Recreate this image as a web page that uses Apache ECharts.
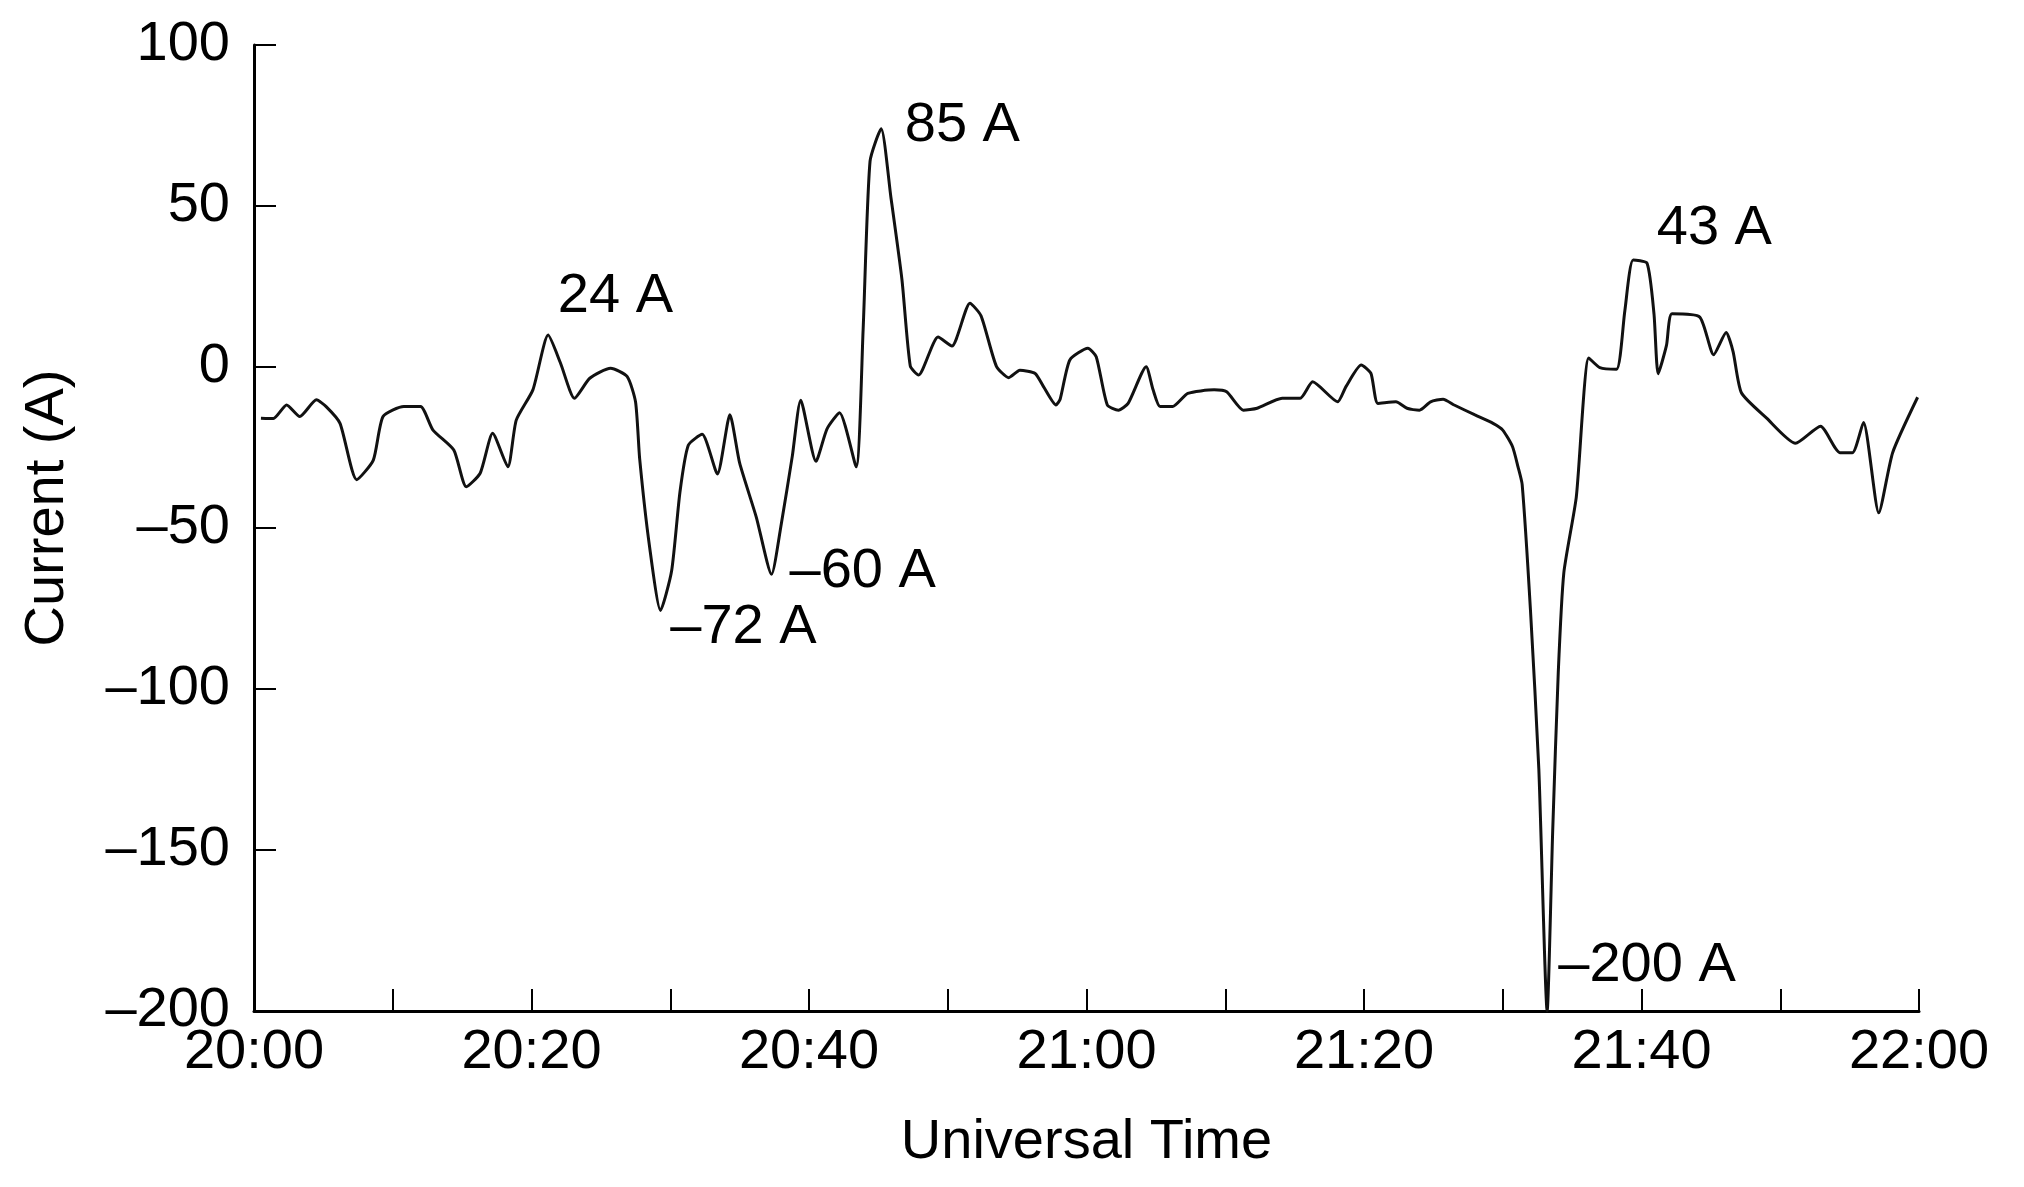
<!DOCTYPE html>
<html>
<head>
<meta charset="utf-8">
<title>Current vs Universal Time</title>
<script src="https://cdn.jsdelivr.net/npm/echarts@6/dist/echarts.min.js"></script>
<style>
  html, body { margin: 0; padding: 0; background: #fff; }
  #chart { width: 2024px; height: 1187px; }
</style>
</head>
<body>
<div id="chart"></div>
<script>
// minutes after 20:00 UT
var minutes = [
  0.5, 1.4, 2.35, 3.3, 4.5, 5.2, 6.2, 7.4, 8.6, 9.3,
  10.8, 12.0, 12.9, 14.4, 15.3, 16.3, 17.2, 18.3, 18.9, 20.1,
  21.2, 22.1, 23.1, 24.2, 25.7, 26.9, 27.5, 27.8, 28.5, 29.3,
  30.1, 30.7, 31.3, 32.3, 33.4, 34.3, 35.0, 36.2, 37.3, 38.0,
  38.8, 39.4, 40.5, 41.3, 42.2, 43.4, 43.9, 44.4, 45.2, 45.9,
  46.7, 47.3, 47.9, 49.3, 50.3, 51.6, 52.4, 53.5, 54.4, 55.2,
  56.3, 56.9, 57.8, 58.1, 58.8, 60.1, 60.7, 61.5, 62.3, 63.0,
  64.3, 64.8, 65.3, 66.2, 67.3, 69.2, 70.1, 71.3, 72.3, 74.1,
  75.4, 76.3, 78.1, 78.7, 79.8, 80.5, 81.0, 82.3, 83.1, 84.0,
  84.8, 85.7, 86.5, 88.0, 89.3, 90.0, 90.7, 91.1, 91.4, 92.0,
  92.6, 93.2, 93.6, 94.0, 94.4, 95.3, 96.2, 97.0, 98.2, 98.8,
  99.4, 100.4, 100.9, 101.2, 101.8, 102.2, 104.2, 105.2, 106.1, 106.6,
  107.2, 109.0, 111.1, 112.9, 114.3, 115.2, 116.0, 117.1, 118.1, 119.9
]
// current (A)
var current = [
  -15.9, -16, -11.8, -15.4, -10.2, -12.3, -17.5, -35, -28.9, -15.4,
  -12.3, -12.3, -19.6, -25.8, -37.2, -33, -20.6, -31, -16.5, -7.1,
  9.9, 1.1, -9.7, -3.5, -0.4, -3, -10.9, -28.7, -55.5, -75.6,
  -63.3, -38.8, -24.3, -20.9, -33.2, -14.8, -29.8, -46.6, -64.4, -48.8,
  -27.6, -10.3, -29.3, -19.2, -14.2, -31, 11.5, 63.9, 74, 52.8,
  27.1, 0.3, -2.5, 9.3, 6.5, 19.8, 15.9, 0.3, -3.3, -1,
  -2, -6.1, -11.8, -10, 2.2, 5.8, 3.2, -11.8, -13.4, -11.3,
  0.1, -7.1, -12.3, -12.3, -8.2, -7.1, -7.7, -13.4, -12.8, -9.7,
  -9.7, -4.6, -10.8, -6.1, 0.6, -2, -11.3, -10.8, -12.8, -13.4,
  -10.8, -10, -11.8, -14.9, -17.5, -19.6, -24.7, -31, -36.5, -75.7,
  -124.8, -200, -144, -95, -64, -40.4, 2.8, -0.2, -0.7, 17.5,
  33.2, 32.2, 16.5, -2.1, 6.7, 16.5, 15.5, 3.8, 10.7, 4.8,
  -8, -15.8, -23.7, -18.4, -26.6, -26.6, -17.2, -45.3, -26.6, -9.4
]

// annotations: left edge / vertical middle of each label
var noteText = ['24 A', '\u201372 A', '\u201360 A', '85 A', '\u2013200 A', '43 A']
var noteMinutes = [21.9, 30.0, 38.6, 46.9, 94.0, 101.1]
var noteValues = [22, -81, -63.5, 75, -186, 43]

var yTicks = [-200, -150, -100, -50, 0, 50, 100]

var FONT = 'Liberation Sans, Arial, sans-serif'

function fmtTime (m) {
  var h = 20 + Math.floor(m / 60)
  var mm = m % 60
  return h + ':' + (mm < 10 ? '0' : '') + mm
}

var chart = echarts.init(document.getElementById('chart'), null, { renderer: 'canvas' })

chart.setOption({
  backgroundColor: '#fff',
  animation: false,
  grid: {
    left: 254,
    right: 105,
    top: 45,
    bottom: 176
  },
  xAxis: {
    type: 'value',
    min: 0,
    max: 120,
    interval: 10,
    name: 'Universal Time',
    nameLocation: 'middle',
    nameGap: 104,
    nameTextStyle: { fontFamily: FONT, fontSize: 56, color: '#000' },
    axisLine: { onZero: false, lineStyle: { color: '#000', width: 3 } },
    axisTick: { inside: true, length: 22, lineStyle: { color: '#000', width: 2 } },
    axisLabel: {
      margin: 14,
      fontFamily: FONT,
      fontSize: 56,
      color: '#000',
      formatter: function (v) {
        return v % 20 === 0 ? fmtTime(v) : ''
      }
    },
    splitLine: { show: false }
  },
  yAxis: {
    type: 'value',
    min: yTicks[0],
    max: yTicks[yTicks.length - 1],
    interval: 50,
    name: 'Current (A)',
    nameLocation: 'middle',
    nameGap: 178,
    nameTextStyle: { fontFamily: FONT, fontSize: 56, color: '#000', padding: [0, 0, 0, 40] },
    axisLine: { show: true, onZero: false, lineStyle: { color: '#000', width: 3 } },
    axisTick: { show: true, inside: true, length: 22, lineStyle: { color: '#000', width: 2 } },
    axisLabel: {
      margin: 24,
      fontFamily: FONT,
      fontSize: 56,
      color: '#000',
      formatter: function (v) {
        return v < 0 ? '\u2013' + Math.abs(v) : String(v)
      }
    },
    splitLine: { show: false }
  },
  series: [
    {
      type: 'line',
      data: minutes.map(function (m, i) { return [m, current[i]] }),
      showSymbol: false,
      smooth: 0.2,
      lineStyle: { color: '#111', width: 3 },
      z: 2
    },
    {
      type: 'scatter',
      data: noteMinutes.map(function (m, i) { return [m, noteValues[i], noteText[i]] }),
      symbolSize: 0.01,
      itemStyle: { color: '#000' },
      label: {
        show: true,
        position: 'right',
        distance: 0,
        fontFamily: FONT,
        fontSize: 56,
        color: '#000',
        opacity: 1,
        textBorderWidth: 0,
        formatter: function (p) { return p.data[2] }
      },
      z: 3
    }
  ]
})
</script>
</body>
</html>
